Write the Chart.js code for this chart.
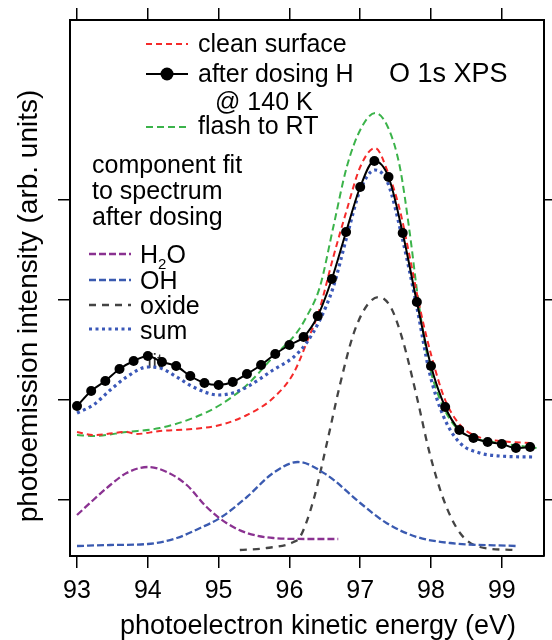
<!DOCTYPE html>
<html>
<head>
<meta charset="utf-8">
<title>O 1s XPS</title>
<script src="https://cdn.jsdelivr.net/npm/chart.js@4.4.0/dist/chart.umd.min.js"></script>
<style>
    html, body { margin: 0; padding: 0; background: #fff; }
    canvas { display: block; }
</style>
</head>
<body>
<canvas id="xpsChart" width="552" height="640"></canvas>
<script>
// Energies in eV, intensities in arb. units
const dosedEnergy = [93.0, 93.2, 93.4, 93.6, 93.8, 94.0, 94.2, 94.4, 94.6, 94.8, 95.0, 95.2, 95.4, 95.6, 95.8, 96.0, 96.2,
    96.4, 96.6, 96.8, 97.0, 97.2, 97.4, 97.6, 97.8, 98.0, 98.2, 98.4, 98.6, 98.8, 99.0, 99.2, 99.4];
const dosedIntensity = [1.94, 2.09, 2.19, 2.31, 2.39, 2.44, 2.38, 2.34, 2.24, 2.17, 2.15, 2.18, 2.26, 2.35, 2.46, 2.55, 2.63,
    2.84, 3.21, 3.68, 4.13, 4.39, 4.23, 3.67, 2.98, 2.34, 1.93, 1.70, 1.62, 1.58, 1.56, 1.52, 1.53];

const cleanEnergy = [93.0, 93.23, 93.7, 93.84, 94.17, 94.64, 95.02, 95.4, 95.77, 96.06, 96.27, 96.41, 96.62, 96.81,
    97.0, 97.21, 97.4, 97.56, 97.7, 97.84, 98.01, 98.2, 98.41, 98.6, 98.97, 99.44];
const cleanIntensity = [1.68, 1.65, 1.68, 1.66, 1.69, 1.71, 1.75, 1.85, 2.02, 2.27, 2.62, 2.87, 3.43, 3.90,
    4.33, 4.52, 4.26, 3.90, 3.43, 2.93, 2.43, 2.00, 1.75, 1.65, 1.59, 1.57];

const flashEnergy = [93.0, 93.23, 93.7, 94.17, 94.64, 95.02, 95.4, 95.77, 96.1, 96.24, 96.43, 96.62, 96.81, 97.0,
    97.21, 97.39, 97.56, 97.7, 97.82, 97.96, 98.13, 98.36, 98.6, 98.97, 99.49];
const flashIntensity = [1.65, 1.64, 1.68, 1.72, 1.82, 1.95, 2.15, 2.43, 2.67, 2.83, 3.13, 3.73, 4.33, 4.70,
    4.87, 4.73, 4.33, 3.67, 3.00, 2.40, 2.00, 1.72, 1.62, 1.57, 1.52];

const sumEnergy = [93.0, 93.23, 93.47, 93.7, 94.0, 94.17, 94.41, 94.64, 95.0, 95.2, 95.4, 95.77, 96.06, 96.24,
    96.43, 96.62, 96.81, 97.0, 97.21, 97.39, 97.6, 97.8, 97.98, 98.18, 98.41, 98.69, 98.97, 99.44];
const sumIntensity = [1.87, 1.95, 2.10, 2.23, 2.33, 2.32, 2.23, 2.13, 2.05, 2.07, 2.13, 2.30, 2.43, 2.57,
    2.80, 3.13, 3.63, 4.10, 4.30, 4.17, 3.60, 2.93, 2.27, 1.83, 1.57, 1.47, 1.44, 1.43];

const h2oEnergy = [93.0, 93.23, 93.47, 93.7, 94.0, 94.27, 94.55, 94.83, 95.11, 95.4, 95.77, 96.27, 96.69];
const h2oIntensity = [0.85, 1.00, 1.15, 1.27, 1.33, 1.28, 1.15, 0.93, 0.77, 0.67, 0.62, 0.61, 0.61];

const ohEnergy = [93.0, 93.47, 94.0, 94.41, 94.74, 95.02, 95.4, 95.77, 96.12, 96.53, 97.0, 97.37, 97.8, 98.27, 99.2];
const ohIntensity = [0.54, 0.55, 0.56, 0.62, 0.72, 0.82, 1.03, 1.27, 1.38, 1.25, 0.97, 0.77, 0.63, 0.57, 0.54];

const oxideEnergy = [95.3, 95.68, 96.06, 96.15, 96.34, 96.53, 96.72, 96.91, 97.1, 97.26, 97.43, 97.6, 97.8,
    97.98, 98.18, 98.41, 98.69, 99.16];
const oxideIntensity = [0.50, 0.52, 0.58, 0.63, 1.00, 1.57, 2.17, 2.67, 2.95, 3.03, 2.93, 2.60, 2.03,
    1.47, 1.00, 0.67, 0.53, 0.50];

// axis ticks
const xTicks = [93, 94, 95, 96, 97, 98, 99];
const yTicks = [1, 2, 3, 4];

const FONT = '"Liberation Sans", Arial, Helvetica, sans-serif';

function points(xs, ys) {
    return xs.map((x, i) => ({ x: x, y: ys[i] }));
}

function curve(label, xs, ys, color, dash, width, order) {
    return {
        label: label,
        data: points(xs, ys),
        borderColor: color,
        backgroundColor: color,
        borderDash: dash,
        borderWidth: width,
        borderCapStyle: 'butt',
        pointRadius: 0,
        fill: false,
        cubicInterpolationMode: 'monotone',
        order: order
    };
}

const datasets = [
    {
        label: 'after dosing H @ 140 K',
        data: points(dosedEnergy, dosedIntensity),
        borderColor: '#000',
        backgroundColor: '#000',
        borderWidth: 2,
        pointRadius: 5,
        pointBorderWidth: 0,
        fill: false,
        cubicInterpolationMode: 'monotone',
        order: 0
    },
    curve('sum', sumEnergy, sumIntensity, '#3b58b8', [3, 3.5], 3.2, 1),
    curve('clean surface', cleanEnergy, cleanIntensity, '#f52a2a', [6, 4], 2, 2),
    curve('flash to RT', flashEnergy, flashIntensity, '#3bb34a', [7, 4], 2, 3),
    curve('H2O', h2oEnergy, h2oIntensity, '#8a3291', [7, 3], 2.3, 4),
    curve('OH', ohEnergy, ohIntensity, '#3a5ab0', [7, 3], 2.3, 5),
    curve('oxide', oxideEnergy, oxideIntensity, '#444444', [7, 6], 2.3, 6)
];

// short line sample for the hand-placed legend
function sample(ctx, ds, x0, x1, y) {
    ctx.save();
    ctx.strokeStyle = ds.borderColor;
    ctx.lineWidth = ds.borderWidth;
    ctx.setLineDash(ds.borderDash || []);
    ctx.beginPath();
    ctx.moveTo(x0, y);
    ctx.lineTo(x1, y);
    ctx.stroke();
    if (ds.pointRadius) {
        ctx.fillStyle = ds.backgroundColor;
        ctx.beginPath();
        ctx.arc((x0 + x1) / 2, y, 6.5, 0, Math.PI * 2);
        ctx.fill();
    }
    ctx.restore();
}

const notes = {
    id: 'notes',
    beforeDatasetsDraw(chart) {
        const ctx = chart.ctx;
        ctx.save();
        ctx.font = '20px ' + FONT;
        ctx.fillStyle = '#333';
        ctx.fillText('fit', 147, 368);
        ctx.restore();
    },
    afterDraw(chart) {
        const ctx = chart.ctx;
        const ds = chart.data.datasets;
        ctx.save();
        ctx.fillStyle = '#000';
        ctx.textBaseline = 'alphabetic';
        ctx.font = '25px ' + FONT;

        sample(ctx, ds[2], 146, 188, 44);
        ctx.fillText('clean surface', 198, 52);
        sample(ctx, ds[0], 146, 188, 74);
        ctx.fillText('after dosing H', 198, 82);
        ctx.fillText('@ 140 K', 215, 110);
        sample(ctx, ds[3], 146, 188, 127);
        ctx.fillText('flash to RT', 198, 134);

        ctx.fillText('component fit', 92, 173);
        ctx.fillText('to spectrum', 92, 199);
        ctx.fillText('after dosing', 92, 225);

        sample(ctx, ds[4], 89, 131, 254);
        ctx.fillText('H', 140, 263);
        let w = ctx.measureText('H').width;
        ctx.font = '15px ' + FONT;
        ctx.fillText('2', 140 + w, 269);
        let w2 = ctx.measureText('2').width;
        ctx.font = '25px ' + FONT;
        ctx.fillText('O', 140 + w + w2, 263);

        sample(ctx, ds[5], 89, 131, 280);
        ctx.fillText('OH', 140, 289);
        sample(ctx, ds[6], 89, 131, 305);
        ctx.fillText('oxide', 140, 314);
        sample(ctx, ds[1], 89, 131, 329);
        ctx.fillText('sum', 140, 339);

        ctx.font = '27px ' + FONT;
        ctx.fillText('O 1s XPS', 389, 82);

        // x axis title
        ctx.textAlign = 'center';
        ctx.fillText('photoelectron kinetic energy (eV)', 318, 634);

        // y axis title
        ctx.translate(29, 306);
        ctx.rotate(-Math.PI / 2);
        ctx.textBaseline = 'middle';
        ctx.font = '28px ' + FONT;
        ctx.fillText('photoemission intensity (arb. units)', 0, 0);
        ctx.restore();
    }
};

function frame(pos, size, ticks) {
    const horizontal = pos === 'top' || pos === 'bottom';
    return {
        type: 'linear',
        position: pos,
        min: horizontal ? 92.901 : 0.44,
        max: horizontal ? 99.596 : 5.8,
        afterBuildTicks: scale => { scale.ticks = ticks.map(v => ({ value: v })); },
        afterFit: scale => {
            if (horizontal) scale.height = size; else scale.width = size;
            scale.paddingLeft = scale.paddingRight = scale.paddingTop = scale.paddingBottom = 0;
        },
        border: { display: true, color: '#000', width: 2 },
        grid: { drawOnChartArea: false, drawTicks: true, tickLength: 12, color: '#000', lineWidth: 1.5 },
        ticks: { display: false }
    };
}

const xAxis = frame('bottom', 84, xTicks);
xAxis.ticks = { display: true, color: '#000', padding: 8, font: { family: FONT, size: 25 }, callback: v => String(v) };

new Chart(document.getElementById('xpsChart').getContext('2d'), {
    type: 'line',
    data: { datasets: datasets },
    options: {
        responsive: false,
        animation: false,
        devicePixelRatio: 1,
        layout: { padding: 0 },
        plugins: { legend: { display: false }, tooltip: { enabled: false } },
        scales: {
            x: xAxis,
            x2: frame('top', 20, xTicks),
            y: frame('left', 70, yTicks),
            y2: frame('right', 8, yTicks)
        }
    },
    plugins: [notes]
});
</script>
</body>
</html>
